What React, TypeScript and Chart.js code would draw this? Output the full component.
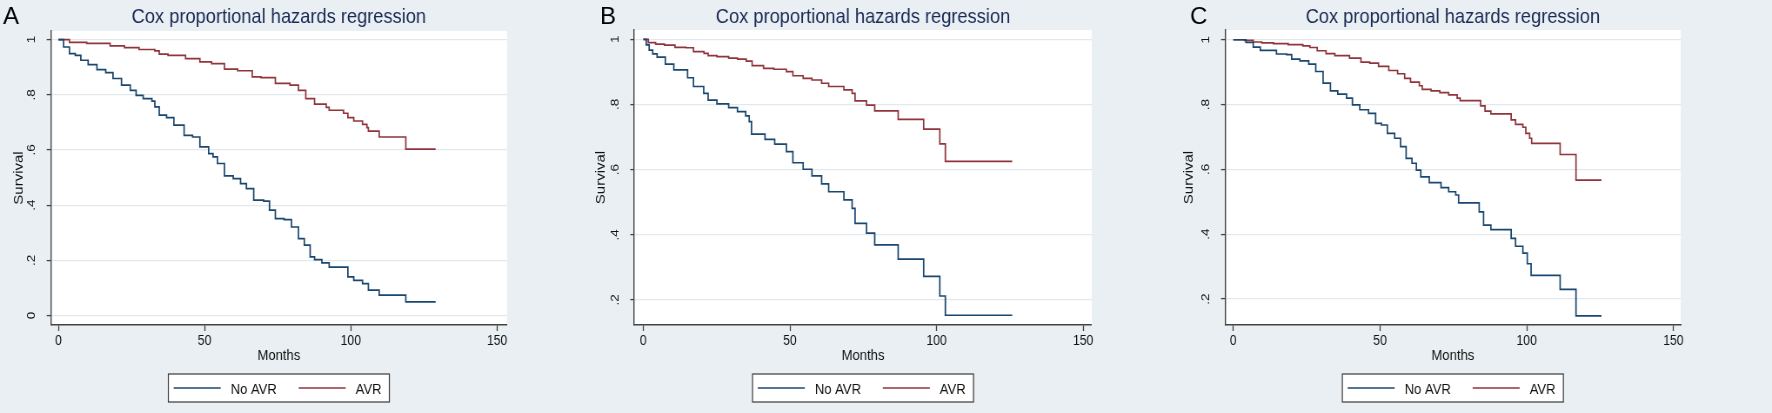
import React, { useEffect, useRef } from "react";
import { Chart, registerables } from "chart.js";

Chart.register(...registerables);

// ---------------- data ----------------
const MONTH_TICKS = [0, 50, 100, 150];
const SURVIVAL_TICKS_A = [0, 0.2, 0.4, 0.6, 0.8, 1];
const SURVIVAL_TICKS_BC = [0.2, 0.4, 0.6, 0.8, 1];
const SERIES_NAMES = ["No AVR", "AVR"];
const PANEL_LETTERS = ["A", "B", "C"];
const TITLE_TEXT = "Cox proportional hazards regression";
const X_TITLE = "Months";
const Y_TITLE = "Survival";

// Panel A
const A_NO_AVR_MONTHS = [0, 1.8, 3.8, 5.8, 7.7, 10.2, 13.2, 16.2, 18.7, 21.6, 24.6, 26.6, 29, 32, 33, 34.5, 37, 39.5, 43, 45.9, 48.4, 51.4, 52.9, 54.4, 56.8, 59.8, 62.3, 64.3, 66.8, 70.2, 72.2, 74.2, 77.2, 79.7, 82.1, 84.1, 86.1, 87.6, 90.1, 92.6, 99, 101, 104, 106, 109.7, 118.8, 129];
const A_NO_AVR_SURV = [1, 0.973, 0.949, 0.943, 0.925, 0.909, 0.891, 0.88, 0.859, 0.835, 0.816, 0.798, 0.786, 0.777, 0.756, 0.726, 0.717, 0.69, 0.653, 0.647, 0.611, 0.587, 0.575, 0.551, 0.506, 0.496, 0.478, 0.46, 0.418, 0.415, 0.382, 0.351, 0.348, 0.321, 0.279, 0.255, 0.213, 0.203, 0.191, 0.176, 0.14, 0.128, 0.116, 0.092, 0.074, 0.05, 0.05];
const A_AVR_MONTHS = [0, 3.8, 9.7, 17.7, 22.6, 27.6, 33, 34.5, 37.5, 43.5, 48.4, 52.4, 56.8, 61.3, 66.3, 69.3, 74.2, 79.2, 82.1, 84.6, 87.6, 91.6, 92.6, 97.5, 99, 101, 104, 105.5, 106, 109.7, 118.8, 129];
const A_AVR_SURV = [1, 0.99, 0.986, 0.977, 0.971, 0.964, 0.959, 0.947, 0.943, 0.931, 0.919, 0.913, 0.893, 0.887, 0.865, 0.862, 0.841, 0.835, 0.816, 0.786, 0.766, 0.754, 0.744, 0.733, 0.717, 0.705, 0.693, 0.681, 0.668, 0.647, 0.603, 0.603];

// Panel B
const B_NO_AVR_MONTHS = [0, 1, 2, 3.2, 4.7, 7.5, 10.4, 15.1, 17.1, 20.6, 22.1, 25.1, 29.1, 32.1, 34.9, 36.1, 36.9, 41.5, 44.8, 48.8, 51, 54.5, 57.5, 60.8, 63.2, 68.4, 71.2, 72.2, 76.1, 78.9, 86.9, 95.6, 101.1, 103, 125.8];
const B_NO_AVR_SURV = [1, 0.983, 0.967, 0.955, 0.945, 0.924, 0.906, 0.882, 0.855, 0.834, 0.813, 0.802, 0.79, 0.778, 0.765, 0.747, 0.709, 0.693, 0.678, 0.655, 0.621, 0.601, 0.581, 0.556, 0.532, 0.507, 0.481, 0.435, 0.405, 0.369, 0.325, 0.272, 0.212, 0.153, 0.153];
const B_AVR_MONTHS = [0, 1.7, 4.2, 7.2, 10.8, 14.6, 17.1, 20.7, 22.1, 25.1, 29.1, 32.1, 35.1, 37.1, 41, 44.5, 48.8, 51, 54.5, 57.5, 60.8, 63.2, 68.4, 71.2, 72.2, 76.1, 78.9, 86.9, 95.6, 101.1, 103, 125.8];
const B_AVR_SURV = [1, 0.99, 0.985, 0.982, 0.975, 0.974, 0.962, 0.957, 0.95, 0.947, 0.942, 0.939, 0.933, 0.919, 0.911, 0.908, 0.901, 0.888, 0.88, 0.875, 0.865, 0.855, 0.845, 0.834, 0.811, 0.798, 0.78, 0.754, 0.724, 0.679, 0.625, 0.625];

// Panel C
const C_NO_AVR_MONTHS = [0, 4.3, 6.8, 9.2, 14.7, 18.2, 19.9, 22.7, 25.7, 28.1, 30.6, 33.1, 35.6, 38.6, 40.6, 43.1, 46.1, 48.5, 50.5, 52.5, 55, 57, 58.9, 60.9, 62.4, 63.9, 66.8, 70.8, 73.4, 75.8, 76.8, 83.8, 85.3, 87.8, 94.7, 96.2, 98.7, 100.2, 101.5, 111.4, 116.8, 125.5];
const C_NO_AVR_SURV = [1, 0.992, 0.977, 0.967, 0.956, 0.954, 0.94, 0.935, 0.925, 0.902, 0.866, 0.842, 0.832, 0.82, 0.799, 0.784, 0.773, 0.742, 0.737, 0.711, 0.696, 0.67, 0.634, 0.619, 0.598, 0.577, 0.559, 0.544, 0.531, 0.521, 0.497, 0.469, 0.428, 0.414, 0.387, 0.363, 0.342, 0.309, 0.273, 0.23, 0.148, 0.148];
const C_AVR_MONTHS = [0, 3.8, 6.8, 9.7, 13.7, 18.7, 23.7, 26.1, 28.6, 31.6, 34.6, 39.6, 43.5, 46.5, 49.5, 53, 56, 58.4, 60.4, 63.4, 64.4, 67.4, 70.4, 73.4, 76.3, 77.3, 84.3, 85.8, 87.8, 94.7, 96.2, 98.7, 99.7, 101, 101.7, 111.4, 116.8, 125.5];
const C_AVR_SURV = [1, 0.998, 0.993, 0.99, 0.988, 0.985, 0.981, 0.976, 0.966, 0.957, 0.951, 0.943, 0.931, 0.928, 0.918, 0.905, 0.895, 0.881, 0.869, 0.858, 0.847, 0.842, 0.837, 0.83, 0.82, 0.812, 0.796, 0.78, 0.771, 0.753, 0.739, 0.73, 0.711, 0.696, 0.68, 0.646, 0.567, 0.567];

// ---------------- style / layout ----------------
const CANVAS_H = 413;
const SQUEEZE = 0.87; // horizontal compression of the original figure
const FONT = '"Liberation Sans", Arial, Helvetica, sans-serif';
const BG = "#E9EFF3";
const GRID_COLOR = "#E1E9ED";
const AXIS_COLOR = "#444444";
const TEXT_COLOR = "#111111";
const TITLE_COLOR = "#1B2A55";
const NAVY = "#1A476F";
const MAROON = "#90353B";

type PanelSpec = {
  letter: string;
  left: number;
  width: number;
  area: { l: number; r: number; t: number; b: number };
  xRange: [number, number];
  yRange: [number, number];
  yTicks: number[];
  letterX: number;
  noAvr: [number[], number[]];
  avr: [number[], number[]];
};

const PANELS: PanelSpec[] = [
  {
    letter: PANEL_LETTERS[0],
    left: 0,
    width: 582,
    area: { l: 50.7, r: 507, t: 31, b: 325 },
    xRange: [-2.6, 153.4],
    yRange: [-0.034, 1.031],
    yTicks: SURVIVAL_TICKS_A,
    letterX: 3,
    noAvr: [A_NO_AVR_MONTHS, A_NO_AVR_SURV],
    avr: [A_AVR_MONTHS, A_AVR_SURV],
  },
  {
    letter: PANEL_LETTERS[1],
    left: 582,
    width: 588,
    area: { l: 52.3, r: 509.7, t: 30, b: 325 },
    xRange: [-3.07, 152.9],
    yRange: [0.123, 1.0285],
    yTicks: SURVIVAL_TICKS_BC,
    letterX: 18,
    noAvr: [B_NO_AVR_MONTHS, B_NO_AVR_SURV],
    avr: [B_AVR_MONTHS, B_AVR_SURV],
  },
  {
    letter: PANEL_LETTERS[2],
    left: 1170,
    width: 602,
    area: { l: 55, r: 510.7, t: 30, b: 325 },
    xRange: [-2.83, 152.5],
    yRange: [0.12, 1.03],
    yTicks: SURVIVAL_TICKS_BC,
    letterX: 20,
    noAvr: [C_NO_AVR_MONTHS, C_NO_AVR_SURV],
    avr: [C_AVR_MONTHS, C_AVR_SURV],
  },
];

function toPoints(months: number[], surv: number[]) {
  return months.map((m, i) => ({ x: m, y: surv[i] }));
}

function fmtSurv(v: number) {
  if (Math.abs(v) < 1e-9) return "0";
  if (Math.abs(v - 1) < 1e-9) return "1";
  return v.toFixed(1).replace(/^0/, "");
}

function decorPlugin(p: PanelSpec, k: number) {
  const U = (v: number) => v / k;
  return {
    id: "decor" + p.letter,
    beforeDraw(chart: any) {
      const { ctx, chartArea: a } = chart;
      ctx.save();
      ctx.fillStyle = BG;
      ctx.fillRect(0, 0, chart.width, chart.height);
      ctx.fillStyle = "#FFFFFF";
      ctx.fillRect(a.left, a.top, a.right - a.left, a.bottom - a.top);
      ctx.restore();
    },
    afterDraw(chart: any) {
      const { ctx, chartArea: a } = chart;
      const cx = (a.left + a.right) / 2;
      ctx.save();
      // title
      ctx.fillStyle = TITLE_COLOR;
      ctx.font = `21px ${FONT}`;
      ctx.textAlign = "center";
      ctx.textBaseline = "alphabetic";
      ctx.fillText(TITLE_TEXT, cx, 22.7);
      // panel letter (not compressed)
      ctx.save();
      ctx.translate(U(p.letterX), 24);
      ctx.scale(1 / k, 1);
      ctx.font = `24px ${FONT}`;
      ctx.fillStyle = "#000000";
      ctx.textAlign = "left";
      ctx.fillText(p.letter, 0, 0);
      ctx.restore();
      // legend
      const bw = U(221);
      const bl = cx - bw / 2;
      const bt = 374;
      const bh = 28;
      ctx.fillStyle = "#FFFFFF";
      ctx.fillRect(bl, bt, bw, bh);
      ctx.strokeStyle = "#3A3A3A";
      ctx.lineWidth = 1.2;
      ctx.strokeRect(bl, bt, bw, bh);
      const ly = 388;
      const items = [
        { color: NAVY, x0: 5.3, x1: 52.3, tx: 62.3, text: SERIES_NAMES[0] },
        { color: MAROON, x0: 130.3, x1: 177.3, tx: 187.3, text: SERIES_NAMES[1] },
      ];
      ctx.font = `15px ${FONT}`;
      ctx.textAlign = "left";
      ctx.textBaseline = "alphabetic";
      for (const it of items) {
        ctx.strokeStyle = it.color;
        ctx.lineWidth = 1.7;
        ctx.beginPath();
        ctx.moveTo(bl + U(it.x0), ly);
        ctx.lineTo(bl + U(it.x1), ly);
        ctx.stroke();
        ctx.fillStyle = TEXT_COLOR;
        ctx.fillText(it.text, bl + U(it.tx), 394);
      }
      ctx.restore();
    },
  };
}

function buildConfig(p: PanelSpec): any {
  const wu = Math.round(p.width / SQUEEZE);
  const k = p.width / wu;
  const U = (v: number) => v / k;
  const areaLeftU = U(p.area.l);
  const areaRightU = U(p.area.r);
  const lineDs = (label: string, color: string, d: [number[], number[]]) => ({
    label,
    data: toPoints(d[0], d[1]),
    borderColor: color,
    backgroundColor: color,
    borderWidth: 1.7,
    stepped: "before",
    pointRadius: 0,
    fill: false,
    tension: 0,
  });
  return {
    type: "line",
    data: {
      datasets: [lineDs(SERIES_NAMES[0], NAVY, p.noAvr), lineDs(SERIES_NAMES[1], MAROON, p.avr)],
    },
    options: {
      animation: false,
      responsive: false,
      events: [],
      layout: { padding: { left: 0, right: wu - areaRightU, top: p.area.t, bottom: 0 } },
      plugins: {
        legend: { display: false },
        tooltip: { enabled: false },
        title: { display: false },
      },
      scales: {
        x: {
          type: "linear",
          position: "bottom",
          min: p.xRange[0],
          max: p.xRange[1],
          afterBuildTicks: (s: any) => {
            s.ticks = MONTH_TICKS.map((v) => ({ value: v }));
          },
          afterFit: (s: any) => {
            s.height = CANVAS_H - p.area.b;
          },
          ticks: {
            font: { family: FONT, size: 14 },
            color: TEXT_COLOR,
            padding: 2,
            maxRotation: 0,
            autoSkip: false,
          },
          grid: {
            display: true,
            drawOnChartArea: false,
            drawTicks: true,
            tickLength: 6,
            tickColor: AXIS_COLOR,
            tickWidth: 1.3,
          },
          border: { display: true, color: AXIS_COLOR, width: 1.4 },
          title: {
            display: true,
            text: X_TITLE,
            font: { family: FONT, size: 15 },
            color: TEXT_COLOR,
            padding: { top: 0, bottom: 47.7 },
          },
        },
        y: {
          type: "linear",
          position: "left",
          min: p.yRange[0],
          max: p.yRange[1],
          afterBuildTicks: (s: any) => {
            s.ticks = p.yTicks.map((v) => ({ value: v }));
          },
          afterFit: (s: any) => {
            s.width = areaLeftU;
          },
          ticks: {
            font: { family: FONT, size: 13.5 },
            color: TEXT_COLOR,
            padding: 12,
            minRotation: 90,
            maxRotation: 90,
            crossAlign: "center",
            autoSkip: false,
            callback: (v: any) => fmtSurv(Number(v)),
          },
          grid: {
            color: GRID_COLOR,
            lineWidth: 1.2,
            drawTicks: true,
            tickLength: 4.6,
            tickColor: AXIS_COLOR,
            tickWidth: 1.3,
          },
          border: { display: true, color: AXIS_COLOR, width: 1.4 },
          title: {
            display: true,
            text: Y_TITLE,
            font: { family: FONT, size: 15 },
            color: TEXT_COLOR,
            padding: { top: 12.8, bottom: 0 },
          },
        },
      },
    },
    plugins: [decorPlugin(p, k)],
  };
}

function Panel({ spec }: { spec: PanelSpec }) {
  const ref = useRef<HTMLCanvasElement | null>(null);
  useEffect(() => {
    const canvas = ref.current;
    if (!canvas) return;
    const chart = new Chart(canvas, buildConfig(spec));
    return () => chart.destroy();
  }, [spec]);
  const wu = Math.round(spec.width / SQUEEZE);
  return (
    <canvas
      ref={ref}
      width={wu}
      height={CANVAS_H}
      style={{
        position: "absolute",
        left: spec.left,
        top: 0,
        width: spec.width + "px",
        height: CANVAS_H + "px",
        display: "block",
      }}
    />
  );
}

export default function App() {
  return (
    <div
      style={{
        position: "absolute",
        left: 0,
        top: 0,
        width: 1772,
        height: CANVAS_H,
        background: BG,
        overflow: "hidden",
      }}
    >
      {PANELS.map((p) => (
        <Panel key={p.letter} spec={p} />
      ))}
    </div>
  );
}
